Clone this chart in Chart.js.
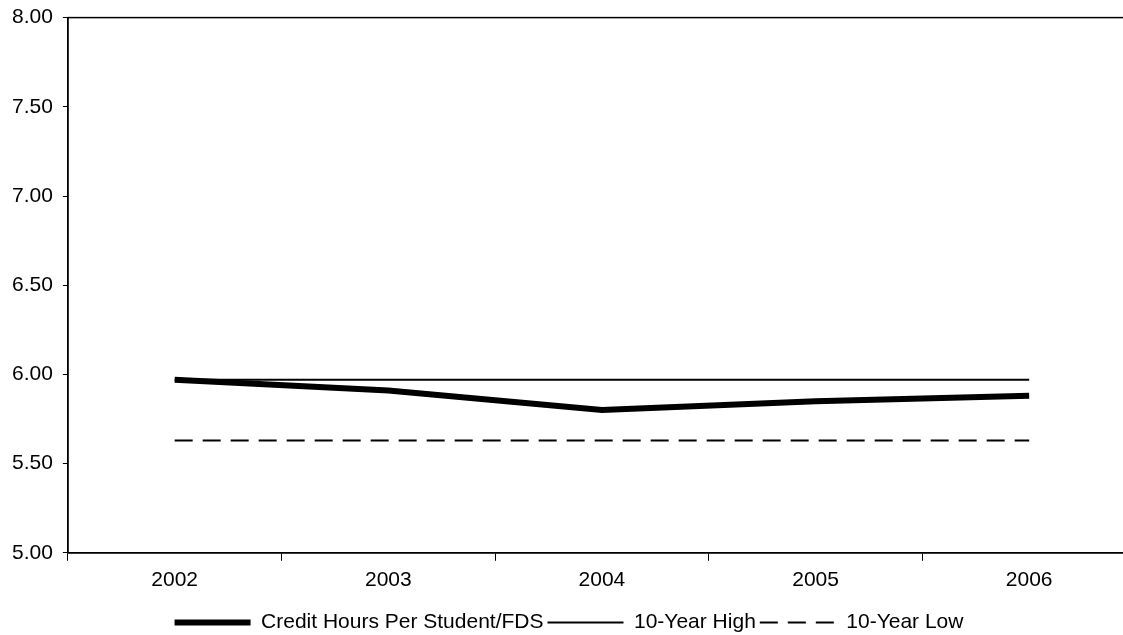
<!DOCTYPE html>
<html lang="en">
<head>
    <meta charset="UTF-8">
    <title>Credit Hours Per Student/FDS</title>
    <script src="https://cdn.jsdelivr.net/npm/chart.js"></script>
    <style>
        html, body {
            margin: 0;
            padding: 0;
            background: #fff;
            overflow: hidden;
        }
        .chart-box {
            width: 1140px;
            height: 648px;
            margin-top: -5px;
        }
    </style>
</head>
<body>
    <div class="chart-box">
        <canvas id="creditChart"></canvas>
    </div>

    <script>
        // data
        const years = ['2002', '2003', '2004', '2005', '2006'];
        const creditHours = [5.97, 5.91, 5.80, 5.85, 5.88];
        const tenYearHigh = [5.97, 5.97, 5.97, 5.97, 5.97];
        const tenYearLow = [5.63, 5.63, 5.63, 5.63, 5.63];
        const yTicks = [5.0, 5.5, 6.0, 6.5, 7.0, 7.5, 8.0];

        const font = { family: 'Arial, "Liberation Sans", sans-serif', size: 21 };

        // frame round the plot area
        const frame = {
            id: 'frame',
            afterDraw(chart) {
                const a = chart.chartArea;
                const c = chart.ctx;
                c.save();
                c.strokeStyle = '#000';
                c.lineWidth = 1.5;
                c.strokeRect(a.left, a.top, a.right - a.left, a.bottom - a.top);
                c.restore();
            }
        };

        const ctx = document.getElementById('creditChart').getContext('2d');
        new Chart(ctx, {
            type: 'line',
            data: {
                labels: years,
                datasets: [{
                    label: 'Credit Hours Per Student/FDS',
                    data: creditHours,
                    borderColor: '#000',
                    borderWidth: 6,
                    pointRadius: 0,
                    tension: 0
                }, {
                    label: '10-Year High',
                    data: tenYearHigh,
                    borderColor: '#000',
                    borderWidth: 2,
                    pointRadius: 0
                }, {
                    label: '10-Year Low',
                    data: tenYearLow,
                    borderColor: '#000',
                    borderWidth: 2,
                    borderDash: [18, 10],
                    pointRadius: 0
                }]
            },
            options: {
                responsive: true,
                maintainAspectRatio: false,
                animation: false,
                layout: {
                    padding: { left: 2, right: 4, top: 1, bottom: 0 }
                },
                plugins: {
                    tooltip: { enabled: false },
                    legend: {
                        position: 'bottom',
                        labels: {
                            usePointStyle: true,
                            pointStyle: 'line',
                            pointStyleWidth: 76,
                            padding: 4,
                            color: '#000',
                            font: font,
                            // keep the dataset's dash and width in the legend line
                            generateLabels(chart) {
                                const items = Chart.defaults.plugins.legend.labels.generateLabels(chart);
                                items.forEach(item => {
                                    const ds = chart.data.datasets[item.datasetIndex];
                                    item.lineDash = ds.borderDash || [];
                                    item.lineWidth = ds.borderWidth;
                                    item.strokeStyle = '#000';
                                });
                                return items;
                            }
                        }
                    }
                },
                scales: {
                    x: {
                        offset: true,
                        // room between the year labels and the legend
                        afterFit(scale) {
                            scale.height += 8;
                        },
                        grid: {
                            offset: true,
                            drawOnChartArea: false,
                            drawTicks: true,
                            tickLength: 8,
                            color: '#000'
                        },
                        border: { color: '#000', width: 1.5 },
                        ticks: {
                            color: '#000',
                            font: font,
                            padding: 7
                        }
                    },
                    y: {
                        min: 5,
                        max: 8,
                        afterBuildTicks(axis) {
                            axis.ticks = yTicks.map(v => ({ value: v }));
                        },
                        grid: {
                            drawOnChartArea: false,
                            tickLength: 5,
                            color: '#000'
                        },
                        border: { color: '#000', width: 1.5 },
                        ticks: {
                            color: '#000',
                            font: font,
                            padding: 10,
                            callback: v => v.toFixed(2)
                        }
                    }
                }
            },
            plugins: [frame]
        });
    </script>
</body>
</html>
